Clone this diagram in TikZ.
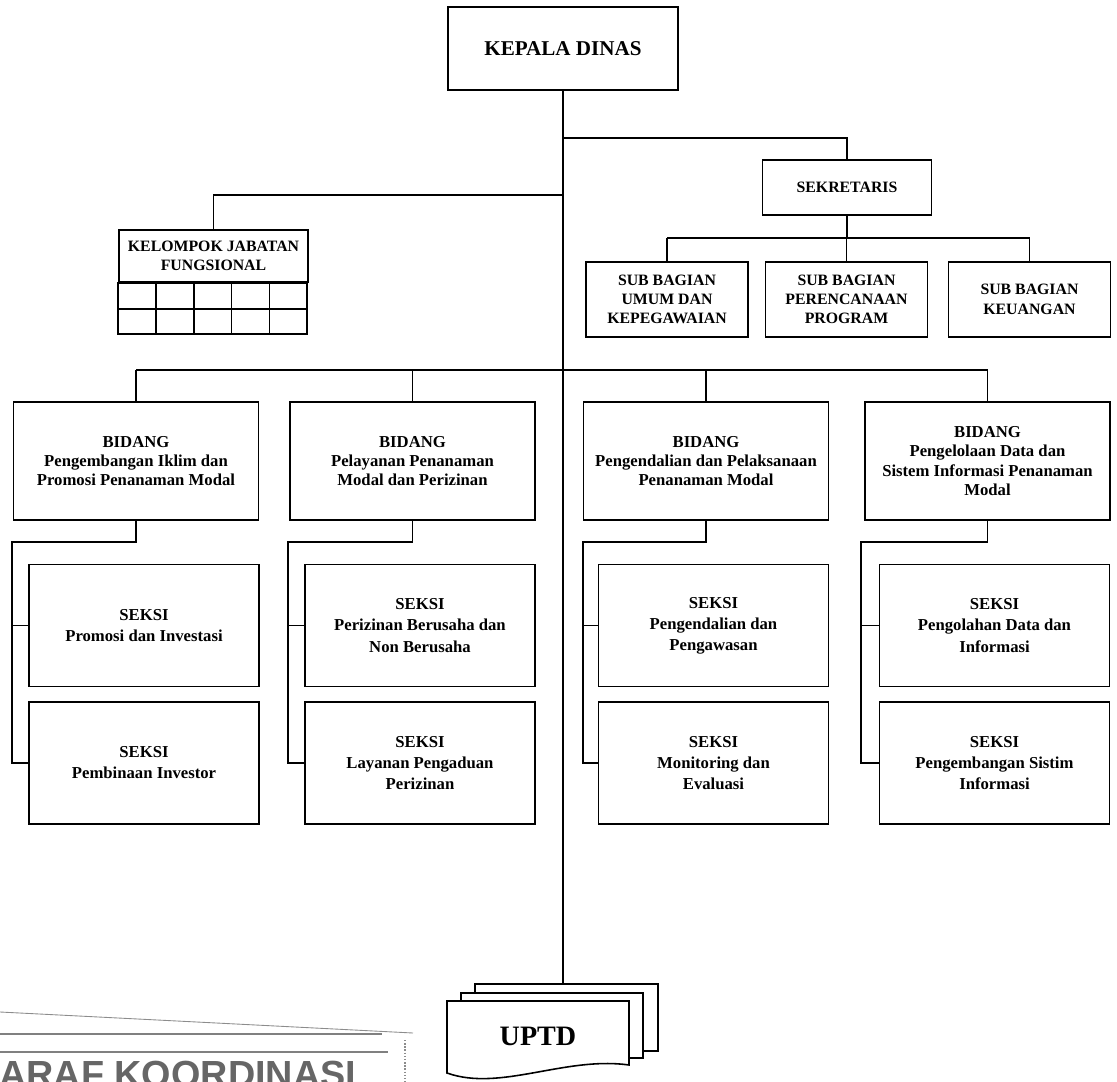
\documentclass[tikz,border=0pt]{standalone}
\usepackage{fontspec}
\setmainfont{Liberation Serif}
\setsansfont{Liberation Sans}

\tikzset{
    box/.style={draw, line width=0.9pt, fill=white, align=center, inner sep=2pt},
    capsbox/.style={box, font=\fontsize{9}{11}\selectfont\bfseries},
    subbox/.style={capsbox, minimum width=3.24cm, minimum height=1.5cm},
    unitbox/.style={box, minimum width=4.9cm, minimum height=2.36cm, font=\fontsize{9.5}{11}\selectfont\bfseries},
    seksibox/.style={box, minimum width=4.6cm, minimum height=2.44cm, font=\fontsize{9.5}{12}\selectfont\bfseries},
    link/.style={line width=0.9pt}
}

\begin{document}
\begin{tikzpicture}[x=0.02cm, y=-0.02cm]
    \useasboundingbox (0,0) rectangle (1117,1082);

        % pimpinan
            \node[capsbox, minimum width=4.6cm, minimum height=1.66cm, font=\fontsize{12}{14}\selectfont\bfseries] (kepala) at (563,48.5) {KEPALA DINAS};
            \node[capsbox, minimum width=3.38cm, minimum height=1.1cm] (sekretaris) at (847,187.5) {SEKRETARIS};

        % kelompok jabatan fungsional
            \node[capsbox, minimum width=3.78cm, minimum height=1.04cm] (kelompok) at (213.5,256) {KELOMPOK JABATAN\\FUNGSIONAL};
            \draw[link] (kelompok.south west) rectangle ++(189,51);
            \draw[link] (kelompok.south west) ++(0,26) -- ++(189,0);
            \foreach \i in {1,...,4}
                \draw[link] (kelompok.south west) ++(\i*37.8,0) -- ++(0,51);

        % sub bagian
            \node[subbox] (sub1) at (667,299.5) {SUB BAGIAN\\UMUM DAN\\KEPEGAWAIAN};
            \node[subbox] (sub2) at (846.5,299.5) {SUB BAGIAN\\PERENCANAAN\\PROGRAM};
            \node[subbox] (sub3) at (1029.5,299.5) {SUB BAGIAN\\KEUANGAN};

        % bidang
            \node[unitbox] (bid1) at (136,461) {BIDANG\\Pengembangan Iklim dan\\Promosi Penanaman Modal};
            \node[unitbox] (bid2) at (412.5,461) {BIDANG\\Pelayanan Penanaman\\Modal dan Perizinan};
            \node[unitbox] (bid3) at (706,461) {BIDANG\\Pengendalian dan Pelaksanaan\\Penanaman Modal};
            \node[unitbox] (bid4) at (987.5,461) {BIDANG\\Pengelolaan Data dan\\Sistem Informasi Penanaman\\Modal};

        % seksi
            \node[seksibox] (seka1) at (144,625.5) {SEKSI\\Promosi dan Investasi};
            \node[seksibox] (sekb1) at (144,763) {SEKSI\\Pembinaan Investor};
            \node[seksibox] (seka2) at (420,625.5) {SEKSI\\Perizinan Berusaha dan\\Non Berusaha};
            \node[seksibox] (sekb2) at (420,763) {SEKSI\\Layanan Pengaduan\\Perizinan};
            \node[seksibox] (seka3) at (713.5,625.5) {SEKSI\\Pengendalian dan\\Pengawasan};
            \node[seksibox] (sekb3) at (713.5,763) {SEKSI\\Monitoring dan\\Evaluasi};
            \node[seksibox] (seka4) at (994.5,625.5) {SEKSI\\Pengolahan Data dan\\Informasi};
            \node[seksibox] (sekb4) at (994.5,763) {SEKSI\\Pengembangan Sistim\\Informasi};

        % uptd
            \draw[link, fill=white] (475,984) rectangle (658,1051);
            \draw[link, fill=white] (461,993) rectangle (643,1058);
            \draw[link, fill=white] (447,1001) -- (629,1001) -- (629,1065) .. controls (565,1056) and (500,1092) .. (447,1073) -- cycle;
            \node[font=\fontsize{16}{18}\selectfont\bfseries] (uptd) at (538,1036) {UPTD};
            \coordinate (uptdtop) at (563,984);

        % garis komando
            \coordinate (sekbus) at (0,138);
            \coordinate (fungbus) at (0,195);
            \coordinate (subbus) at (0,238);
            \coordinate (bidbus) at (0,370);
            \draw[link] (kepala.south) -- (uptdtop);
            \draw[link] (kepala.south |- sekbus) -| (sekretaris.north);
            \draw[link] (kepala.south |- fungbus) -| (kelompok.north);
            \draw[link] (sekretaris.south) -- (sekretaris.south |- subbus);
            \draw[link] (sub1.north |- subbus) -- (sub3.north |- subbus);
            \foreach \n in {sub1,sub2,sub3}
                \draw[link] (\n.north |- subbus) -- (\n.north);
            \draw[link] (bid1.north |- bidbus) -- (bid4.north |- bidbus);
            \foreach \n in {bid1,bid2,bid3,bid4}
                \draw[link] (\n.north |- bidbus) -- (\n.north);
            \foreach \i/\sx in {1/12, 2/288, 3/583, 4/861}{
                \draw[link] (bid\i.south) |- (\sx,542) |- (sekb\i.west);
                \draw[link] (seka\i.west -| \sx,0) -- (seka\i.west);
            }

        % stempel paraf
            \draw[black!45, line width=0.5pt] (0,1012) -- (413,1033);
            \draw[black!50, line width=1.4pt] (0,1034) -- (382,1034);
            \draw[black!50, line width=1.4pt] (0,1052) -- (388,1052);
            \draw[black!45, densely dotted, line width=0.8pt] (405,1040) -- (405,1082);
            \node[anchor=base west, inner sep=0pt, text=black!60, font=\sffamily\bfseries\fontsize{21.5}{24}\selectfont] (paraf) at (-1,1087) {ARAF KOORDINASI};
\end{tikzpicture}
\end{document}
